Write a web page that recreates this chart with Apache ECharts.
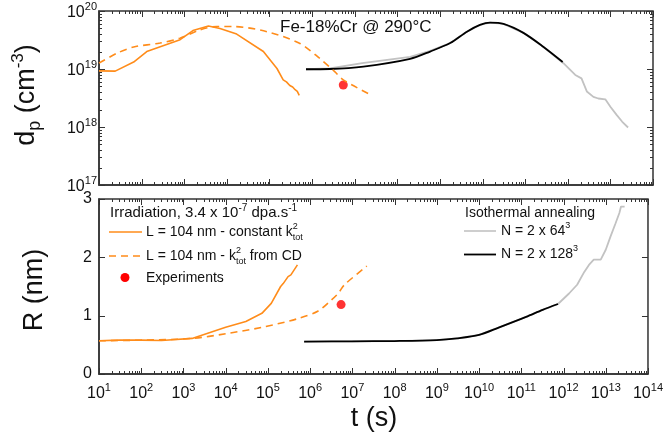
<!DOCTYPE html>
<html><head><meta charset="utf-8">
<script src="https://cdn.jsdelivr.net/npm/echarts@6/dist/echarts.min.js"></script>
<style>html,body{margin:0;padding:0;background:#fff}#c{width:666px;height:445px}</style>
</head><body><div id="c"></div>
<script>
const FONT = '"Liberation Sans", Arial, Helvetica, sans-serif';

// Tick values
const xMajorTicks = [1e1,1e2,1e3,1e4,1e5,1e6,1e7,1e8,1e9,1e10,1e11,1e12,1e13,1e14];
const dpMajorTicks = [1e17,1e18,1e19,1e20];
const rTicks = [0,1,2,3];

// Top panel: number density d_p (cm^-3) vs t (s)
const dpConstK = [[10,9.3e18],[24,9.2e18],[65,1.32e19],[132,2.0e19],[800,3.2e19],[1.6e3,4.6e19],[3.7e3,5.5e19],[6.9e3,5.0e19],[1.7e4,4.0e19],[7.2e4,2.0e19],[1.5e5,1.02e19],[2.1e5,6.5e18],[2.5e5,6.0e18],[3.0e5,5.2e18],[3.5e5,4.9e18],[4.0e5,4.4e18],[4.5e5,4.1e18],[5.0e5,3.5e18]];
const dpFromCD = [[10,1.26e19],[26,1.86e19],[65,2.4e19],[270,2.8e19],[790,3.4e19],[2.3e3,4.7e19],[5.8e3,5.4e19],[1.4e4,5.4e19],[8.7e4,4.4e19],[5.2e5,2.75e19],[1.55e6,1.5e19],[3.4e6,9.0e18],[5.4e6,6.5e18],[2.2e7,3.7e18]];
const dpExp = [[5.4e6,5.3e18]];
const dpN64 = [[7.2e5,9.9e18],[2.6e6,1.02e19],[1.5e7,1.26e19],[2e8,1.62e19],[5.9e8,2.05e19],[1.74e9,2.8e19],[4.3e9,4.4e19],[8.7e9,5.75e19],[1.5e10,6.3e19],[3.1e10,6.0e19],[9.1e10,4.2e19],[2.7e11,2.4e19],[7.9e11,1.26e19],[1.5e12,7.9e18],[2.1e12,6.9e18],[2.8e12,4.1e18],[4e12,3.3e18],[5.2e12,3.1e18],[7.6e12,3.0e18],[1e13,2.24e18],[1.4e13,1.62e18],[1.9e13,1.23e18],[2.6e13,9.8e17]];
const dpN128 = [[7.2e5,9.9e18],[2.6e6,1.0e19],[1.6e7,1.1e19],[2e8,1.5e19],[5.9e8,2.0e19],[1.74e9,2.8e19],[4.3e9,4.4e19],[8.7e9,5.75e19],[1.5e10,6.3e19],[3.1e10,6.0e19],[9.1e10,4.2e19],[2.7e11,2.4e19],[7.6e11,1.32e19]];

// Bottom panel: radius R (nm) vs t (s)
const rConstK = [[10,0.57],[30,0.58],[100,0.58],[300,0.575],[1.6e3,0.61],[1e4,0.80],[3e4,0.90],[7.2e4,1.04],[1.2e5,1.21],[2e5,1.50],[2.3e5,1.55],[3e5,1.67],[3.5e5,1.70],[5e5,1.87]];
const rFromCD = [[10,0.57],[100,0.58],[1.6e3,0.61],[1e4,0.69],[7.2e4,0.80],[5.2e5,0.95],[1.55e6,1.08],[3.2e6,1.27],[4.6e6,1.38],[6.5e6,1.53],[2.2e7,1.85]];
const rExp = [[5.4e6,1.19]];
const rN64 = [[7.2e5,0.555],[1e7,0.56],[1e8,0.565],[1e9,0.58],[3e9,0.61],[1e10,0.67],[3e10,0.80],[1.3e11,0.98],[3.2e11,1.10],[7.4e11,1.20],[7.9e11,1.21],[1.35e12,1.38],[2.1e12,1.53],[3.1e12,1.75],[4e12,1.87],[5.2e12,1.96],[7.6e12,1.96],[1e13,2.13],[1.3e13,2.36],[1.7e13,2.58],[2.1e13,2.76],[2.3e13,2.87],[2.8e13,2.87]];
const rN128 = [[7.2e5,0.555],[1e7,0.56],[1e8,0.565],[1e9,0.58],[3e9,0.61],[1e10,0.67],[3e10,0.80],[1.3e11,0.98],[3.2e11,1.10],[7.4e11,1.20]];

const ORANGE = '#ff8c1a', GRAY = '#c2c2c2', BLACK = '#000000', RED = '#ff0000';
const AXC = '#333333', TXT = '#111111';
const MAJOR_LEN = 6, MINOR_LEN = 3;

function minorOf(majors) {
  const out = [];
  for (let i = 0; i < majors.length - 1; i++) for (let k = 2; k <= 9; k++) out.push(k * majors[i]);
  return out;
}
const xMinor = minorOf(xMajorTicks);
const dpMinor = minorOf(dpMajorTicks);

// tick data for the tick-drawing custom series: [value, length]
const xTickData = xMajorTicks.map(v => [v, MAJOR_LEN]).concat(xMinor.map(v => [v, MINOR_LEN]));
const dpTickData = dpMajorTicks.map(v => [v, MAJOR_LEN]).concat(dpMinor.map(v => [v, MINOR_LEN]));
const rTickData = rTicks.map(v => [v, MAJOR_LEN]);

const expRich = {
  b: {fontSize: 16, fontFamily: FONT, color: TXT, lineHeight: 20, verticalAlign: 'bottom'},
  e: {fontSize: 11, fontFamily: FONT, color: TXT, lineHeight: 9, verticalAlign: 'top'}
};
const expFmt = v => '{b|10}{e|' + Math.round(Math.log10(v)) + '}';

const X_MIN = 1e1, X_MAX = 1e14, DP_MIN = 1e17, DP_MAX = 1e20, R_MIN = 0, R_MAX = 3;

function xAxisDef(gridIndex, labels) {
  return {
    type: 'log', logBase: 10, gridIndex, min: X_MIN, max: X_MAX,
    axisLine: {show: true, onZero: false, lineStyle: {color: AXC, width: 1.5}},
    axisTick: {show: false},
    axisLabel: labels ? {show: true, customValues: xMajorTicks, formatter: expFmt, rich: expRich, margin: 8} : {show: false},
    splitLine: {show: false}, minorTick: {show: false}
  };
}
function sub(seg) { return {type: 'line', shape: seg, style: {stroke: AXC, lineWidth: 1}}; }
function px(v) { return Math.round(v) + 0.5; }

// custom series drawing inward ticks on both x edges of a grid
function xTickSeries(xi, yi, yLo, yHi) {
  return {
    type: 'custom', xAxisIndex: xi, yAxisIndex: yi, silent: true, z: 6, clip: false,
    data: xTickData.map(d => [d[0], yLo, d[1]]),
    encode: {x: 0, y: 1},
    renderItem: (params, api) => {
      const t = api.value(0), len = api.value(2);
      const pb = api.coord([t, yLo]), pt = api.coord([t, yHi]);
      const x = px(pb[0]);
      return {type: 'group', children: [
        sub({x1: x, y1: pb[1], x2: x, y2: pb[1] - len}),
        sub({x1: x, y1: pt[1], x2: x, y2: pt[1] + len})
      ]};
    }
  };
}
// custom series drawing inward ticks on both y edges of a grid
function yTickSeries(xi, yi, data) {
  return {
    type: 'custom', xAxisIndex: xi, yAxisIndex: yi, silent: true, z: 6, clip: false,
    data: data.map(d => [X_MIN, d[0], d[1]]),
    encode: {x: 0, y: 1},
    renderItem: (params, api) => {
      const v = api.value(1), len = api.value(2);
      const pl = api.coord([X_MIN, v]), pr = api.coord([X_MAX, v]);
      const y = px(pl[1]);
      return {type: 'group', children: [
        sub({x1: pl[0], y1: y, x2: pl[0] + len, y2: y}),
        sub({x1: pr[0], y1: y, x2: pr[0] - len, y2: y})
      ]};
    }
  };
}

const smallRich = {
  sup: {fontSize: 9, fontFamily: FONT, fill: TXT, width: 0, verticalAlign: 'top', lineHeight: 11},
  sub: {fontSize: 9, fontFamily: FONT, fill: TXT, verticalAlign: 'bottom', lineHeight: 9},
  s3: {fontSize: 9, fontFamily: FONT, fill: TXT, verticalAlign: 'top', lineHeight: 11}
};
function gText(x, y, text, size) {
  return {
    type: 'text', x, y, silent: true,
    style: {text, fontSize: size, fontFamily: FONT, fill: TXT, verticalAlign: 'middle', lineHeight: 20, rich: smallRich}
  };
}
function gLine(x1, x2, y, color, dash) {
  return {type: 'line', silent: true, shape: {x1, y1: y, x2, y2: y},
    style: {stroke: color, lineWidth: color === BLACK ? 1.8 : 1.6, lineDash: dash || null}};
}
const nameRich = {
  sub: {fontSize: 18, fontFamily: FONT, fill: TXT, verticalAlign: 'bottom', lineHeight: 14},
  sup: {fontSize: 17, fontFamily: FONT, fill: TXT, verticalAlign: 'top', lineHeight: 14},
  n: {fontSize: 27, fontFamily: FONT, fill: TXT, lineHeight: 34}
};

const option = {
  animation: false,
  grid: [
    {left: 99, top: 11, width: 554, height: 174, show: true, borderColor: AXC, borderWidth: 1.5, backgroundColor: 'transparent'},
    {left: 99, top: 199, width: 554, height: 175, show: true, borderColor: AXC, borderWidth: 1.5, backgroundColor: 'transparent'}
  ],
  xAxis: [
    xAxisDef(0, false),
    xAxisDef(1, true)
  ],
  yAxis: [
    {
      type: 'log', logBase: 10, gridIndex: 0, min: DP_MIN, max: DP_MAX,
      axisLine: {show: true, onZero: false, lineStyle: {color: AXC, width: 1.5}},
      axisTick: {show: false},
      axisLabel: {show: true, customValues: dpMajorTicks, formatter: expFmt, rich: expRich, margin: 2},
      splitLine: {show: false}, minorTick: {show: false}
    },
    {
      type: 'value', gridIndex: 1, min: R_MIN, max: R_MAX, interval: 1,
      axisLine: {show: true, onZero: false, lineStyle: {color: AXC, width: 1.5}},
      axisTick: {show: false},
      axisLabel: {show: true, fontSize: 16, fontFamily: FONT, color: TXT, margin: 7},
      splitLine: {show: false}
    }
  ],
  graphic: [
    {type: 'text', x: 27, y: 95, rotation: Math.PI / 2, silent: true,
      style: {text: '{n|d}{sub|p}{n| (cm}{sup|-3}{n|)}', align: 'center', verticalAlign: 'middle', fontSize: 27, fontFamily: FONT, fill: TXT, rich: nameRich}},
    {type: 'text', x: 35, y: 290, rotation: Math.PI / 2, silent: true,
      style: {text: 'R (nm)', align: 'center', verticalAlign: 'middle', fontSize: 27, fontFamily: FONT, fill: TXT}},
    {type: 'text', x: 374, y: 419, silent: true,
      style: {text: 't (s)', align: 'center', verticalAlign: 'middle', fontSize: 27, fontFamily: FONT, fill: TXT}},
    gText(280, 27, 'Fe-18%Cr @ 290°C', 17),
    {type: 'text', x: 110, y: 213, silent: true,
      style: {text: 'Irradiation, 3.4 x 10{sup|-7} dpa.s{sup|-1}', fontSize: 15, fontFamily: FONT, fill: TXT, verticalAlign: 'middle', lineHeight: 20,
        rich: {sup: {fontSize: 10, fontFamily: FONT, fill: TXT, verticalAlign: 'top', lineHeight: 10}}}},
    gLine(109, 142, 232, ORANGE),
    gText(146, 232, 'L = 104 nm - constant k{sup|2}{sub|tot}', 14),
    gLine(109, 142, 256, ORANGE, [7, 5]),
    gText(146, 256, 'L = 104 nm - k{sup|2}{sub|tot} from CD', 14),
    {type: 'circle', silent: true, shape: {cx: 125, cy: 277.5, r: 4.5}, style: {fill: RED}},
    gText(146, 278, 'Experiments', 14),
    gText(465, 213, 'Isothermal annealing', 14),
    gLine(464, 496, 231, GRAY),
    gText(501, 231, 'N = 2 x 64{s3|3}', 14),
    gLine(464, 496, 254.5, BLACK),
    gText(501, 254.5, 'N = 2 x 128{s3|3}', 14)
  ],
  series: [
    {type: 'line', xAxisIndex: 0, yAxisIndex: 0, data: dpN64, symbol: 'none', lineStyle: {color: GRAY, width: 1.8}},
    {type: 'line', xAxisIndex: 0, yAxisIndex: 0, data: dpN128, symbol: 'none', smooth: 0.3, lineStyle: {color: BLACK, width: 1.8}},
    {type: 'line', xAxisIndex: 0, yAxisIndex: 0, data: dpConstK, symbol: 'none', lineStyle: {color: ORANGE, width: 1.6}},
    {type: 'line', xAxisIndex: 0, yAxisIndex: 0, data: dpFromCD, symbol: 'none', smooth: 0.3, lineStyle: {color: ORANGE, width: 1.6, type: [7, 5]}},
    {type: 'scatter', xAxisIndex: 0, yAxisIndex: 0, data: dpExp, symbol: 'circle', symbolSize: 9, itemStyle: {color: RED}},

    {type: 'line', xAxisIndex: 1, yAxisIndex: 1, data: rN64, symbol: 'none', lineStyle: {color: GRAY, width: 1.8}},
    {type: 'line', xAxisIndex: 1, yAxisIndex: 1, data: rN128, symbol: 'none', smooth: 0.3, lineStyle: {color: BLACK, width: 1.8}},
    {type: 'line', xAxisIndex: 1, yAxisIndex: 1, data: rConstK, symbol: 'none', lineStyle: {color: ORANGE, width: 1.6}},
    {type: 'line', xAxisIndex: 1, yAxisIndex: 1, data: rFromCD, symbol: 'none', smooth: 0.3, lineStyle: {color: ORANGE, width: 1.6, type: [7, 5]}},
    {type: 'scatter', xAxisIndex: 1, yAxisIndex: 1, data: rExp, symbol: 'circle', symbolSize: 9, itemStyle: {color: RED}},

    xTickSeries(0, 0, DP_MIN, DP_MAX),
    yTickSeries(0, 0, dpTickData),
    xTickSeries(1, 1, R_MIN, R_MAX),
    yTickSeries(1, 1, rTickData)
  ]
};

const chart = echarts.init(document.getElementById('c'));
chart.setOption(option);
</script>
</body></html>
